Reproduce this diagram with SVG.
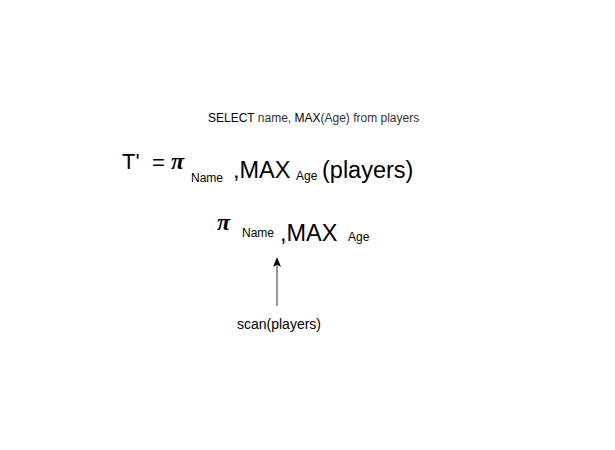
<svg xmlns="http://www.w3.org/2000/svg" width="615" height="450" viewBox="0 0 615 450">
<style>
text{font-family:"Liberation Sans",Arial,sans-serif;fill:#000}
.s12{font-size:12px}
.g{fill:#333}
.big{font-size:23.5px}
.sub{font-size:12px}
.pi{font-family:"Liberation Serif","Times New Roman",serif;font-style:italic;font-weight:bold;font-size:24px}
</style>
<defs>
<marker id="ah" markerWidth="10" markerHeight="10" refX="5" refY="5" orient="auto" markerUnits="userSpaceOnUse">
<path d="M0,1 L10,5 L0,9 L2.5,5 Z" fill="#000"/>
</marker>
</defs>
<rect width="615" height="450" fill="#fff"/>
<g id="query">
<text class="s12" x="208" y="122"><tspan>SELECT</tspan><tspan class="g"> name, </tspan><tspan>MAX</tspan><tspan class="g">(Age) from players</tspan></text>
</g>
<g id="expression">
<text x="122" y="169" font-size="22">T'</text>
<text x="152" y="170" font-size="22">=</text>
<text class="pi" x="171" y="169">π</text>
<text class="sub" x="191" y="182">Name</text>
<text class="big" x="233" y="178">,MAX</text>
<text class="sub" x="296" y="180">Age</text>
<text class="big" x="322" y="178">(players)</text>
</g>
<g id="project">
<text class="pi" x="217" y="230">π</text>
<text class="sub" x="242" y="237">Name</text>
<text class="big" x="280" y="241">,MAX</text>
<text class="sub" x="348" y="241">Age</text>
</g>
<g id="scan">
<text x="279" y="329" font-size="14" text-anchor="middle">scan(players)</text>
</g>
<g id="connectors">
<line x1="277" y1="306" x2="277" y2="262" stroke="#777" stroke-width="1.5" marker-end="url(#ah)"/>
</g>
</svg>
